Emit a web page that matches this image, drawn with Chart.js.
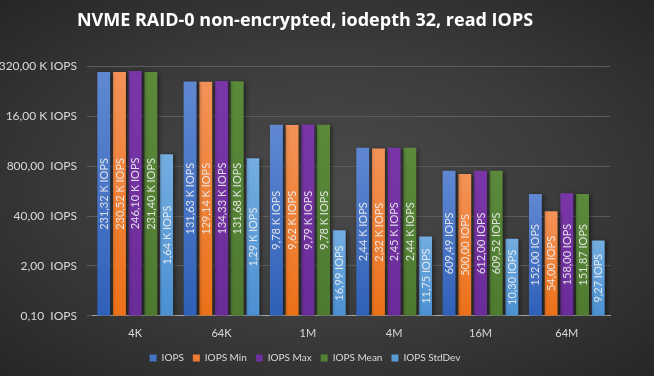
<!DOCTYPE html>
<html>
<head>
<meta charset="utf-8">
<script src="https://cdn.jsdelivr.net/npm/chart.js@4"></script>
<style>
html, body { margin: 0; padding: 0; }
body {
  width: 654px; height: 376px; overflow: hidden;
  background: radial-gradient(ellipse at 50% 50%, #4b4b4b 0%, #3c3c3c 50%, #262626 100%);
}
#wrap { width: 654px; height: 376px; }
</style>
</head>
<body>
<div id="wrap"><canvas id="chartIops"></canvas></div>
<script>
// Datos de la gráfica
const categories = ["4K", "64K", "1M", "4M", "16M", "64M"];
const iops = [231320, 131630, 9780, 2440, 609.49, 152.00];
const iopsMin = [230520, 129140, 9620, 2320, 500.00, 54.00];
const iopsMax = [246100, 134330, 9790, 2450, 612.00, 158.00];
const iopsMean = [231400, 131680, 9780, 2440, 609.52, 151.87];
const iopsStdDev = [1640, 1290, 16.99, 11.75, 10.30, 9.27];
const yTicks = [0.1, 2, 40, 800, 16000, 320000];

// Colores: [arriba, abajo, sólido]
const colIops = ["#6088d2", "#2f60b8", "#4472c4"];
const colMin = ["#f39258", "#eb7118", "#ed7d31"];
const colMax = ["#7a36a8", "#6a2c98", "#7030a0"];
const colMean = ["#5a8a3a", "#4e7a30", "#548235"];
const colStd = ["#74ade0", "#4b90d2", "#5b9bd5"];

function fmtTick(v) {
  if (v >= 1000) return (v / 1000).toFixed(2).replace(".", ",") + " K IOPS";
  return v.toFixed(2).replace(".", ",") + "  IOPS";
}
function fmtLabel(v) {
  if (v >= 1000) return (v / 1000).toFixed(2).replace(".", ",") + " K IOPS";
  return v.toFixed(2).replace(".", ",") + " IOPS";
}

function barGradient(cols) {
  return function (context) {
    const chart = context.chart;
    const area = chart.chartArea;
    const y = chart.scales.y;
    if (!area || !y || context.raw == null) return cols[2];
    const top = y.getPixelForValue(context.raw);
    if (!isFinite(top)) return cols[2];
    const g = chart.ctx.createLinearGradient(0, top, 0, area.bottom);
    g.addColorStop(0, cols[0]);
    g.addColorStop(1, cols[1]);
    return g;
  };
}

function serie(label, data, cols) {
  return {
    label: label,
    data: data,
    backgroundColor: barGradient(cols),
    solid: cols[2],
    borderWidth: 0,
    barPercentage: 0.82,
    categoryPercentage: 0.91
  };
}

// Sombra de las barras
const barShadow = {
  id: "barShadow",
  beforeDatasetsDraw(chart) {
    const ctx = chart.ctx;
    ctx.save();
    ctx.shadowColor = "rgba(0,0,0,0.45)";
    ctx.shadowBlur = 4;
    ctx.shadowOffsetX = 2;
    ctx.shadowOffsetY = 1;
  },
  afterDatasetsDraw(chart) {
    chart.ctx.restore();
  }
};

// Etiquetas verticales dentro de las barras
const barLabels = {
  id: "barLabels",
  afterDatasetsDraw(chart) {
    const ctx = chart.ctx;
    ctx.save();
    ctx.font = "11px Lato";
    ctx.fillStyle = "rgba(238,238,238,0.9)";
    ctx.textAlign = "center";
    ctx.textBaseline = "middle";
    chart.data.datasets.forEach((ds, i) => {
      chart.getDatasetMeta(i).data.forEach((bar, j) => {
        const mid = (bar.y + bar.base) / 2;
        ctx.save();
        ctx.translate(bar.x + 0.5, mid);
        ctx.rotate(-Math.PI / 2);
        ctx.fillText(fmtLabel(ds.data[j]), 0, 0);
        ctx.restore();
      });
    });
    ctx.restore();
  }
};

const ctx = document.getElementById("chartIops").getContext("2d");
new Chart(ctx, {
  type: "bar",
  data: {
    labels: categories,
    datasets: [
      serie("IOPS", iops, colIops),
      serie("IOPS Min", iopsMin, colMin),
      serie("IOPS Max", iopsMax, colMax),
      serie("IOPS Mean", iopsMean, colMean),
      serie("IOPS StdDev", iopsStdDev, colStd)
    ]
  },
  options: {
    responsive: true,
    maintainAspectRatio: false,
    animation: false,
    layout: { padding: { left: 0, right: 44, top: 0, bottom: 3 } },
    plugins: {
      title: {
        display: true,
        text: "NVME RAID-0 non-encrypted, iodepth 32, read IOPS",
        color: "#ffffff",
        font: { family: "Open Sans", size: 18, weight: "bold" },
        padding: { top: 10, bottom: 35 }
      },
      legend: {
        position: "bottom",
        labels: {
          color: "#d9d9d9",
          font: { family: "Lato", size: 10 },
          boxWidth: 7,
          boxHeight: 7,
          padding: 9,
          generateLabels(chart) {
            return chart.data.datasets.map((ds, i) => ({
              text: ds.label,
              fillStyle: ds.solid,
              strokeStyle: ds.solid,
              lineWidth: 0,
              fontColor: "#d9d9d9",
              datasetIndex: i,
              hidden: false
            }));
          }
        }
      },
      tooltip: { enabled: false }
    },
    scales: {
      x: {
        grid: { display: false },
        border: { color: "#a6a6a6", width: 1 },
        ticks: { color: "#d9d9d9", font: { family: "Lato", size: 11 }, padding: 3 },
        afterFit(scale) {
          scale.height += 1;
        }
      },
      y: {
        type: "logarithmic",
        min: 0.1,
        max: 320000,
        afterBuildTicks(scale) {
          scale.ticks = yTicks.map(v => ({ value: v }));
        },
        afterFit(scale) {
          scale.width = 92;
        },
        grid: { color: "#5c5c5c", tickLength: 5, tickColor: "#5c5c5c" },
        border: { display: false },
        ticks: {
          color: "#d9d9d9",
          font: { family: "Lato", size: 12 },
          padding: 10,
          callback: v => fmtTick(v)
        }
      }
    }
  },
  plugins: [barShadow, barLabels]
});
</script>
</body>
</html>
